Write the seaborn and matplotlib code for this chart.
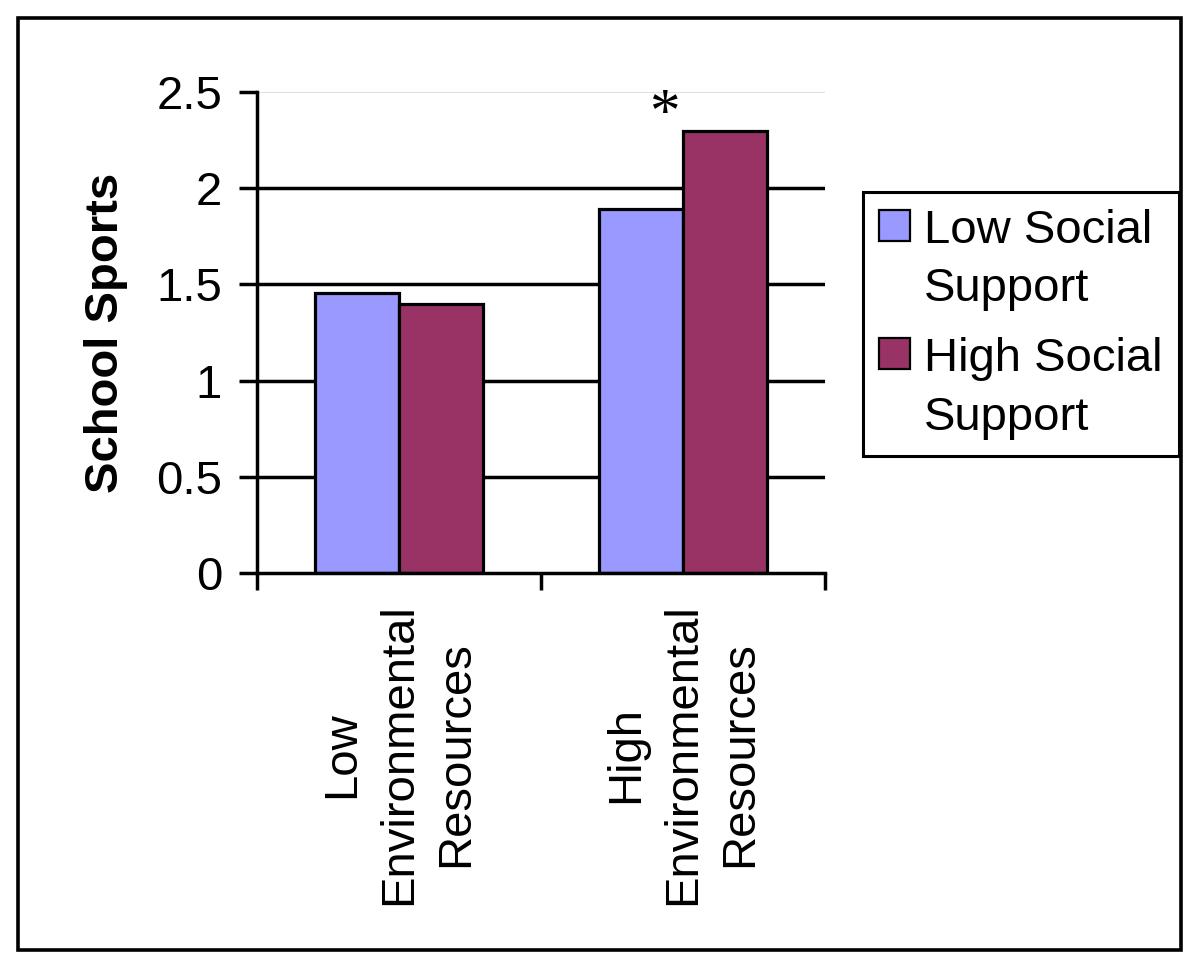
import pandas as pd
import seaborn as sns
import matplotlib.pyplot as plt
from matplotlib.patches import Rectangle
from matplotlib.legend_handler import HandlerPatch


sns.set_theme(style='white')
plt.rcParams['font.family'] = ['Liberation Sans', 'DejaVu Sans']
plt.rcParams['text.color'] = 'black'
plt.rcParams['xtick.color'] = 'black'
plt.rcParams['ytick.color'] = 'black'
plt.rcParams['axes.labelcolor'] = 'black'

# Datos
env_levels = ['Low\nEnvironmental\nResources', 'High\nEnvironmental\nResources']
support_levels = ['Low Social\nSupport', 'High Social\nSupport']
low_support = [1.455, 1.89]
high_support = [1.40, 2.295]
y_ticks = [0, 0.5, 1, 1.5, 2, 2.5]
y_ticklabels = ['0', '0.5', '1', '1.5', '2', '2.5']
bar_colors = ['#9999FF', '#993366']

df = pd.DataFrame({
    'env': env_levels * 2,
    'support': [support_levels[0]] * 2 + [support_levels[1]] * 2,
    'value': low_support + high_support,
})

FS = 34

fig = plt.figure(figsize=(12, 9.72), dpi=100)
ax = fig.add_axes([0.214, 0.4105, 0.4735, 0.4948])

# cuadricula por detras de las barras
for yv in y_ticks[1:-1]:
    ax.axhline(yv, color='black', lw=2.5, zorder=0)
ax.axhline(y_ticks[-1], color='#d9d9d9', lw=1.2, zorder=0)

sns.barplot(data=df, x='env', y='value', hue='support', order=env_levels,
            hue_order=support_levels, palette=bar_colors, width=0.59,
            edgecolor='black', linewidth=2.3, saturation=1, ax=ax, zorder=2)

ax.set_xlim(-0.5, 1.5)
ax.set_ylim(0, 2.5)
ax.set_yticks(y_ticks)
ax.set_yticklabels(y_ticklabels, fontsize=FS)
ax.tick_params(axis='y', left=True, length=13, width=2.5, pad=12)

# etiquetas centradas, marcas entre categorias
ax.set_xticks([0, 1])
ax.set_xticklabels(env_levels, rotation=90, fontsize=FS, va='top', ha='center',
                   multialignment='center', linespacing=1.38)
ax.tick_params(axis='x', which='major', length=0, pad=22)
ax.set_xticks([-0.5, 0.5, 1.5], minor=True)
ax.tick_params(axis='x', which='minor', bottom=True, length=12, width=2.5)

for side in ['top', 'right']:
    ax.spines[side].set_visible(False)
for side in ['left', 'bottom']:
    ax.spines[side].set_color('black')
    ax.spines[side].set_linewidth(2.5)

ax.set_xlabel('')
ax.set_ylabel('School Sports', fontsize=FS, fontweight='bold', labelpad=20)

ax.text(0.935, 2.38, '*', fontsize=44, ha='center', va='center',
        family=['Liberation Serif', 'DejaVu Serif'])


# cuadrito de la leyenda alineado con la primera linea del texto
def top_square(legend, orig_handle, xdescent, ydescent, width, height, fontsize):
    return Rectangle((-xdescent, -ydescent + 0.75 * fontsize), width, height)


handles, labels = ax.get_legend_handles_labels()
for h in handles:
    h.set_edgecolor('black')
    h.set_linewidth(1.6)
leg = ax.legend(handles, labels, loc='upper left', bbox_to_anchor=(0.719, 0.802),
                bbox_transform=fig.transFigure, fontsize=FS, frameon=True,
                fancybox=False, edgecolor='black', framealpha=1,
                handlelength=0.64, handleheight=0.64, handletextpad=0.3,
                borderpad=0.35, labelspacing=0.55, borderaxespad=0,
                handler_map={h: HandlerPatch(patch_func=top_square) for h in handles})
leg.get_frame().set_linewidth(2.2)
for t in leg.get_texts():
    t.set_linespacing(1.42)

fig.patches.append(Rectangle((0.015, 0.0226), 0.969, 0.959, transform=fig.transFigure,
                             fill=False, edgecolor='black', linewidth=2.6))

plt.savefig('out.png', dpi=100)
